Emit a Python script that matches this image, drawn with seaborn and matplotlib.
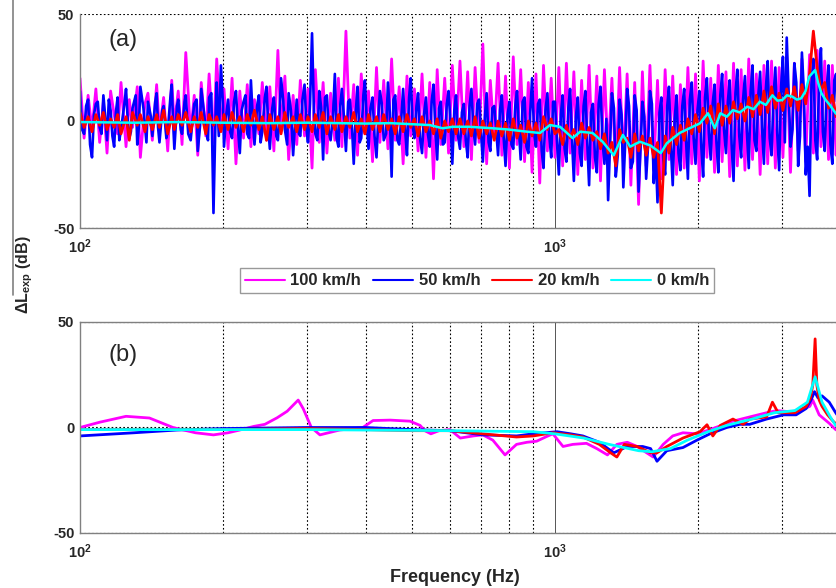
import matplotlib
matplotlib.use("Agg")
import matplotlib.pyplot as plt
from matplotlib.lines import Line2D
from matplotlib.ticker import FixedLocator, NullFormatter
import pandas as pd
import seaborn as sns

# ─────────────── Data: panel (a), raw spectra ───────────────
FREQ_A = [100, 102, 104, 106, 108, 110, 112, 114, 116, 118,
          120, 122, 125, 127, 129, 132, 134, 137, 139, 142,
          145, 147, 150, 153, 156, 158, 161, 164, 167, 171,
          174, 177, 180, 184, 187, 191, 194, 198, 201, 205,
          209, 213, 217, 221, 225, 229, 233, 238, 242, 247,
          251, 256, 261, 265, 270, 275, 281, 286, 291, 297,
          302, 308, 313, 319, 325, 331, 337, 344, 350, 356,
          363, 370, 377, 384, 391, 398, 405, 413, 421, 428,
          436, 445, 453, 461, 470, 479, 488, 497, 506, 515,
          525, 535, 545, 555, 565, 575, 586, 597, 608, 619,
          631, 643, 655, 667, 679, 692, 705, 718, 731, 745,
          759, 773, 787, 802, 817, 832, 847, 863, 879, 895,
          912, 929, 946, 964, 982, 1000, 1019, 1038, 1057, 1076,
          1096, 1117, 1138, 1159, 1180, 1202, 1225, 1247, 1271, 1294,
          1318, 1343, 1368, 1393, 1419, 1445, 1472, 1500, 1528, 1556,
          1585, 1614, 1644, 1675, 1706, 1738, 1770, 1803, 1837, 1871,
          1905, 1941, 1977, 2014, 2051, 2089, 2128, 2168, 2208, 2249,
          2291, 2333, 2377, 2421, 2466, 2512, 2559, 2606, 2655, 2704,
          2754, 2805, 2858, 2911, 2965, 3020, 3076, 3133, 3192, 3251,
          3311, 3373, 3436, 3500, 3565, 3631, 3698, 3767, 3837, 3908, 3981]

# in-between bins, used for the 50 km/h trace
FREQ_A_MID = [101, 103, 105, 107, 109, 111, 113, 115, 117, 119,
              121, 124, 126, 128, 131, 133, 136, 138, 141, 144,
              146, 149, 152, 155, 157, 160, 163, 166, 169, 173,
              176, 179, 182, 186, 189, 193, 196, 200, 203, 207,
              211, 215, 219, 223, 227, 231, 236, 240, 245, 249,
              254, 259, 263, 268, 273, 278, 284, 289, 294, 300,
              305, 311, 316, 322, 328, 334, 341, 347, 353, 360,
              367, 374, 381, 388, 395, 402, 409, 417, 425, 432,
              441, 449, 457, 466, 475, 484, 493, 502, 511, 520,
              530, 540, 550, 560, 570, 581, 592, 603, 614, 625,
              637, 649, 661, 673, 686, 699, 712, 725, 738, 752,
              766, 780, 795, 810, 825, 840, 855, 871, 887, 904,
              921, 938, 955, 973, 991, 1010, 1029, 1048, 1067, 1086,
              1107, 1128, 1149, 1170, 1191, 1214, 1236, 1259, 1283, 1306,
              1331, 1356, 1381, 1406, 1432, 1459, 1486, 1514, 1542, 1571,
              1600, 1629, 1660, 1691, 1722, 1754, 1787, 1820, 1854, 1888,
              1923, 1959, 1996, 2033, 2070, 2109, 2148, 2188, 2229, 2270,
              2312, 2355, 2399, 2444, 2489, 2536, 2583, 2631, 2680, 2729,
              2780, 2832, 2885, 2938, 2993, 3048, 3105, 3163, 3222, 3281,
              3342, 3405, 3468, 3533, 3598, 3665, 3733, 3802, 3873, 3945]

MAGENTA_A = [20, -8, 12, -4, 15, -10, 9, -15, 14, 3,
             -6, 18, -12, 10, -3, 16, -17, 8, 13, -9,
             17, -5, 11, -14, 19, -2, 14, -11, 32, -6,
             12, -16, 18, -7, 22, -10, 29, -4, 15, -13,
             20, -20, 14, -8, 17, -12, 10, -6, 18, -9,
             16, -14, 33, -5, 21, -18, 12, -11, 19, -7,
             15, -22, 24, -10, 18, -15, 13, -9, 20, -12,
             42, -8, 17, -16, 22, -6, 14, -19, 25, -10,
             19, -13, 29, -9, 16, -20, 21, -7, 15, -14,
             22, -17, 18, -27, 24, -11, 20, -15, 26, -9,
             28, -12, 23, -18, 25, -10, 36, -20, 19, -8,
             27, -16, 21, -22, 30, -11, 24, -19, 18, -24,
             22, -29, 26, -14, 20, -17, 25, -21, 27, -15,
             23, -25, 19, -18, 26, -22, 21, -28, 24, -16,
             20, -24, 25, -19, 22, -30, 18, -39, 23, -21,
             26, -23, 19, -27, 24, -18, 21, -25, 17, -22,
             25, -20, 22, -28, 28, -17, 20, -24, 26, -19,
             23, -26, 27, -21, 24, -23, 29, -18, 22, -25,
             26, -20, 28, -22, 25, -17, 30, -24, 27, -14,
             29, -19, 31, -15, 33, -12, 28, -18, 26, -16, 20]

BLUE_A = [14, -6, 10, -17, 8, -3, 12, -9, 5, -12,
          11, -4, 15, -8, 6, -11, 16, -2, 9, -7,
          13, -10, 7, -5, 17, -13, 10, -6, 12, -9,
          8, -14, 15, -4, 11, -43, 18, 26, -12, 10,
          -8, 14, -15, 9, -6, 19, -11, 12, -5, 16,
          -13, 11, -9, 20, -4, 13, -16, 10, -7, 17,
          -10, 41, -6, 14, -18, 12, -9, 22, -12, 15,
          -14, 10, -20, 16, -8, 19, -13, 11, -17, 14,
          -9, 18, -26, 12, -11, 15, -16, 20, -8, 13,
          -15, 11, -12, 17, -18, 9, -10, 14, -20, 12,
          -13, 8, -17, 15, -11, 10, -19, 13, -14, 7,
          -16, 12, -21, 9, -13, 14, -18, 11, -15, 20,
          -12, 10, -22, 13, -17, 9, -25, 12, -19, 15,
          -28, 11, -21, 14, -30, 8, -24, 16, -20, -37,
          13, -26, 10, -31, 15, -22, 12, -33, 9, -27,
          14, -29, -38, 11, -25, 16, -30, 12, -23, 15,
          -27, 18, -20, 14, -26, 20, -18, 17, -24, 22,
          -15, 19, -28, 24, -17, 21, -22, 26, -14, 23,
          -20, 28, -16, 25, -23, 30, 39, -12, 27, -21,
          32, -25, -35, 29, -18, 34, -14, 26, -20, 22, -10]

BLUE_A_MID = [-4, 7, -11, 3, 9, -6, 2, 10, -7, 4,
              -9, 8, 1, -5, 12, -3, 6, -10, 2, 9,
              -3, 5, -8, 11, 0, 7, -4, 9, -6, 3,
              10, -2, 6, -9, 13, 4, -7, 8, 2, -5,
              9, -3, 5, 12, -8, 2, 7, -10, 11, -2,
              6, -7, 3, 9, -11, 5, 1, -6, 10, -4,
              8, 2, -9, 6, 11, -5, 3, -8, 7, 0,
              9, -4, 5, -10, 12, -2, 6, -7, 3, 8,
              -6, 4, 10, -9, 2, -5, 11, -3, 7, -8,
              3, -6, 9, -4, 6, -11, 8, -2, 5, -7,
              4, -9, 7, -3, 8, -6, 2, -10, 6, -4,
              5, -8, 3, -11, 7, -5, 9, -12, 4, -6,
              8, -14, 5, -7, 9, -10, 3, -13, 6, -8,
              2, -15, 7, -11, 4, -17, 8, -9, 1, -12,
              6, -16, 3, -10, 7, -19, 5, -13, 2, -11,
              8, -14, 4, -18, 6, -12, 1, -15, 7, -9,
              10, -8, 5, -12, 11, -6, 8, -10, 12, -4,
              9, -11, 13, -7, 10, -5, 14, -9, 12, -3,
              15, -8, 11, -6, 16, -10, 13, -4, 18, -7,
              14, -12, 17, -9, 20, -5, 15, -11, 19, -6]

RED_A = [4, -3, 2, -5, 3, -2, 4, -4, 1, -3,
         3, -6, 2, -9, 4, -2, 3, -5, 2, -4,
         3, -3, 5, -6, 2, -4, 3, -2, 4, -5,
         2, -3, 4, -6, 3, -2, 2, -5, 3, -4,
         4, -3, 2, -5, 3, -2, 5, -4, 2, -9,
         3, -4, 2, -6, 4, -3, 2, -5, 3, -4,
         2, -5, 3, -3, 4, -6, 2, -4, 3, -5,
         2, -3, 4, -5, 1, -6, 3, -4, 2, -5,
         3, -4, 1, -6, 2, -5, 3, -3, 1, -7,
         2, -5, 0, -6, 1, -8, 0, -5, 1, -6,
         1, -6, 0, -7, 2, -8, 0, -6, -1, -9,
         0, -7, -1, -9, 1, -8, -2, -10, 0, -7,
         -1, -9, 2, -4, 1, -6, -4, -11, -2, -8,
         -4, -11, -1, -8, -3, -9, -5, -13, -6, -15,
         -10, -21, -4, -10, -8, -17, -6, -14, -7, -16,
         -8, -17, -10, -43, -7, -15, -3, -11, -2, -9,
         1, -6, 3, -5, 6, -1, 7, -6, 8, -2,
         7, -1, 9, 1, 8, 0, 11, 2, 12, 3,
         14, 4, 16, 6, 13, 5, 15, 7, 16, 5,
         17, 8, 22, 42, 25, 14, 18, 6, 12, 2, 6]

FREQ_CYAN_A = [100, 130, 160, 200, 250, 300, 350, 400, 450, 500,
               545, 580, 610, 660, 740, 800, 873, 930, 976, 1025,
               1090, 1130, 1200, 1260, 1330, 1390, 1440, 1510, 1590, 1670,
               1720, 1830, 1950, 2020, 2100, 2170, 2230, 2300, 2370, 2450,
               2540, 2620, 2700, 2780, 2870, 2940, 3010, 3080, 3160, 3230,
               3300, 3370, 3430, 3530, 3580, 3640, 3710, 3790, 3900, 3981]
CYAN_A = [-0.5, -0.8, -0.5, -0.8, -1, -0.8, -1, -1.2, -1, -1.5,
          -1.9, -3.4, -2.7, -2.7, -3.4, -4, -5, -5.6, -1.9, -2.7,
          -8, -5, -5.6, -9.7, -16, -6.5, -12, -9.7, -11.5, -15,
          -10.4, -5.6, -2.7, -1.1, 3.6, -3.4, 3.6, 2, 5.1, 4,
          6.7, 5.5, 9, 7.5, 12, 9.5, 9.8, 12, 11.4, 10,
          10.6, 14, 20.7, 23.8, 18, 13, 10, 7.5, 3.6, 2]

# ─────────────── Data: panel (b), smoothed spectra ───────────────
FREQ_MAGENTA_B = [100, 110, 125, 140, 157, 175, 191, 205, 217, 232,
                  245, 260, 273, 288, 295, 307, 320, 352, 394, 414,
                  450, 495, 520, 532, 548, 570, 601, 632, 673, 705,
                  740, 785, 830, 873, 915, 960, 990, 1040, 1090, 1165,
                  1225, 1290, 1350, 1420, 1490, 1560, 1610, 1690, 1770, 1860,
                  1990, 2120, 2370, 2570, 2790, 2930, 3120, 3270, 3440, 3490,
                  3600, 3780, 3900, 3981]
MAGENTA_B = [0, 2.5, 5.3, 4.5, 0, -2.5, -3.5, -2.5, -1.2, 0.5,
             1.5, 4.6, 7.7, 13, 9, 0, -3.5, -1.2, 0, 3.3,
             3.5, 3, 1, -1.5, -3, -1.5, -1, -5, -4, -3.5,
             -6, -13, -8, -7, -6.5, -4.3, -3, -9, -8, -7.5,
             -10, -13, -8, -7, -9, -12, -14, -8, -4, -2.5,
             -3, -1, 3, 5, 7, 8, 7.5, 8, 10, 13,
             6, 2, -1, -2]

FREQ_BLUE_B = [100, 130, 160, 200, 300, 400, 500, 600, 705, 830,
               900, 1010, 1080, 1145, 1240, 1330, 1420, 1530, 1590, 1640,
               1720, 1860, 1990, 2120, 2300, 2450, 2570, 2790, 3030, 3220,
               3380, 3460, 3520, 3580, 3650, 3780, 3900, 3981]
BLUE_B = [-4, -2.5, -1.2, -0.5, 0, 0, -1, -1.5, -3.5, -4,
          -3, -2, -3, -4, -7, -12, -9, -9, -10, -16,
          -11, -9.5, -6, -3, 0, 1.5, 1.5, 4, 6, 6,
          9, 13, 17, 14, 15, 12, 7, 4]

FREQ_RED_B = [100, 200, 300, 400, 500, 600, 705, 830, 900, 990,
              1080, 1145, 1240, 1310, 1350, 1400, 1490, 1590, 1640, 1720,
              1860, 2020, 2090, 2150, 2230, 2370, 2490, 2570, 2790, 2870,
              2950, 3030, 3200, 3380, 3450, 3490, 3530, 3560, 3600, 3650,
              3750, 3850, 3981]
RED_B = [-1, -1, -0.5, -1, -1.5, -1.5, -3, -4.5, -4, -2.5,
         -3.5, -4.5, -8, -12, -14, -8, -9, -12, -12, -9,
         -5, -2, 1.3, -4, 1, 4, 1.5, 4, 5, 12,
         7, 7, 7, 10, 14, 20, 42, 20, 13, 10,
         6, 3, 0]

FREQ_CYAN_B = [100, 300, 600, 900, 1000, 1150, 1300, 1500, 1600, 1750,
               1900, 2100, 2300, 2600, 2900, 3200, 3400, 3530, 3650, 3800,
               3900, 3981]
CYAN_B = [-1, -1, -1.5, -2, -3, -5, -8, -11, -11.5, -10,
          -6, -2, 1, 4, 7, 8, 12, 24, 12, 5,
          1, -1]

LABELS = ["100 km/h", "50 km/h", "20 km/h", "0 km/h"]
COLORS = ["#ff00ff", "#0000ff", "#ff0000", "#00ffff"]

MINOR_FREQS = [200, 300, 400, 500, 600, 700, 800, 900, 2000, 3000]


def style_axis(ax, top_dotted):
    ax.set_xscale("log")
    ax.set_xlim(100, 3925)
    ax.set_ylim(-50, 50)
    ax.set_xticks([100, 1000])
    ax.set_xticklabels([r"$\mathbf{10^2}$", r"$\mathbf{10^3}$"], fontsize=10.5)
    ax.xaxis.set_minor_locator(FixedLocator(MINOR_FREQS))
    ax.xaxis.set_minor_formatter(NullFormatter())
    ax.set_yticks([-50, 0, 50])
    ax.set_yticklabels(["-50", "0", "50"], fontsize=10.5, fontweight="bold")
    ax.set_xlabel("")
    ax.set_ylabel("")
    ax.tick_params(which="both", direction="in", length=4, color="#808080")
    ax.tick_params(axis="y", pad=4)
    ax.tick_params(axis="x", which="major", pad=7)
    ax.tick_params(axis="x", which="minor", length=3)
    ax.set_axisbelow(True)
    ax.grid(which="minor", axis="x", color="black", lw=0.8, ls=(0, (1.5, 2)))
    ax.grid(which="major", axis="x", color="#555555", lw=0.7, ls="-")
    ax.grid(which="major", axis="y", color="black", lw=0.8, ls=(0, (1.5, 2)))
    for side in ["left", "bottom", "top"]:
        ax.spines[side].set_color("#808080")
        ax.spines[side].set_linewidth(1.0)
    ax.spines["right"].set_visible(False)
    if top_dotted:
        ax.spines["top"].set_visible(False)


def run_plot():
    sns.set_style("white")
    plt.rcParams["font.family"] = ["Liberation Sans", "DejaVu Sans"]
    plt.rcParams["mathtext.fontset"] = "custom"
    plt.rcParams["mathtext.rm"] = "Liberation Sans"
    plt.rcParams["mathtext.bf"] = "Liberation Sans:bold"
    plt.rcParams["mathtext.it"] = "Liberation Sans:italic"
    plt.rcParams["axes.unicode_minus"] = False

    fig = plt.figure(figsize=(8.37, 5.88), dpi=100)
    ax_a = fig.add_axes([80 / 837, 1 - 228 / 588, 1 - 80 / 837, 214 / 588])
    ax_b = fig.add_axes([80 / 837, 1 - 533 / 588, 1 - 80 / 837, 211 / 588])

    # ─────────────── Panel (a): noisy spectra ───────────────
    blue_a = pd.DataFrame({"freq": FREQ_A + FREQ_A_MID,
                           "val": BLUE_A + BLUE_A_MID}).sort_values("freq")
    sns.lineplot(x=FREQ_A, y=MAGENTA_A, ax=ax_a, color=COLORS[0], lw=2.0,
                 estimator=None)
    sns.lineplot(data=blue_a, x="freq", y="val", ax=ax_a, color=COLORS[1],
                 lw=1.9, estimator=None)
    sns.lineplot(x=FREQ_A, y=RED_A, ax=ax_a, color=COLORS[2], lw=2.0,
                 estimator=None)
    sns.lineplot(x=FREQ_CYAN_A, y=CYAN_A, ax=ax_a, color=COLORS[3], lw=1.8,
                 estimator=None)
    style_axis(ax_a, top_dotted=True)
    ax_a.text(0.057, 0.878, "(a)", transform=ax_a.transAxes, fontsize=17,
              ha="center", va="center")

    # ─────────────── Panel (b) ───────────────
    series_b = [(FREQ_MAGENTA_B, MAGENTA_B), (FREQ_BLUE_B, BLUE_B),
                (FREQ_RED_B, RED_B), (FREQ_CYAN_B, CYAN_B)]
    for (f, v), c in zip(series_b, COLORS):
        sns.lineplot(x=f, y=v, ax=ax_b, color=c, lw=2.0, estimator=None)
    style_axis(ax_b, top_dotted=False)
    ax_b.text(0.057, 0.844, "(b)", transform=ax_b.transAxes, fontsize=17,
              ha="center", va="center")

    # ─────────────── Legend and shared labels ───────────────
    handles = [Line2D([0], [0], color=c, lw=1.5) for c in COLORS]
    fig.legend(handles, LABELS, loc="center", bbox_to_anchor=(477 / 837, 1 - 281 / 588),
               ncol=4, frameon=True, fancybox=False, edgecolor="#808080",
               prop={"weight": "bold", "size": 12}, handlelength=2.4,
               handletextpad=0.35, columnspacing=0.7, borderpad=0.3,
               borderaxespad=0)

    fig.text(25 / 837, 1 - 275 / 588, r"$\mathbf{\Delta L_{exp}}$ (dB)", rotation=90,
             ha="center", va="center", fontsize=11.5, fontweight="bold")
    fig.add_artist(Line2D([13 / 837, 13 / 837], [1.0, 1 - 295 / 588],
                          transform=fig.transFigure, color="#808080", lw=1.2))
    fig.text(455 / 837, 1 - 577 / 588, "Frequency (Hz)", ha="center", va="center",
             fontsize=13, fontweight="bold")

    fig.savefig("out.png", dpi=100)
    plt.close(fig)


if __name__ == "__main__":
    run_plot()
